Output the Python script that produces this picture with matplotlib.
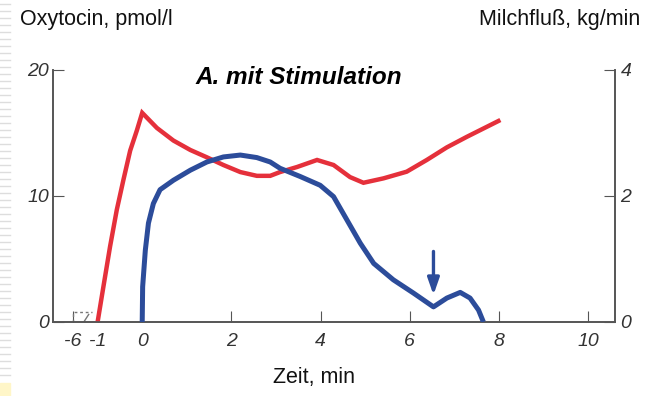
import matplotlib.pyplot as plt

# Oxytocin (pmol/l), time in min
oxy_time = [-1.0, -0.87, -0.72, -0.57, -0.42, -0.27, -0.12, 0.0, 0.33, 0.70,
            1.08, 1.45, 1.82, 2.2, 2.57, 2.87, 3.09, 3.47, 3.92, 4.29, 4.66,
            4.96, 5.41, 5.93, 6.38, 6.83, 7.28, 8.03]
oxy_value = [0, 2.8, 6.0, 8.9, 11.3, 13.6, 15.2, 16.6, 15.4, 14.4,
             13.65, 13.07, 12.46, 11.9, 11.6, 11.6, 11.9, 12.3, 12.86, 12.46, 11.5,
             11.05, 11.4, 11.93, 12.86, 13.86, 14.7, 16.03]

# Milchfluss (kg/min)
milk_time = [0, 0.01, 0.07, 0.14, 0.25, 0.40, 0.70, 1.08, 1.45, 1.82, 2.2,
             2.57, 2.87, 3.09, 3.54, 3.99, 4.29, 4.59, 4.89, 5.19, 5.63, 6.08,
             6.53, 6.83, 7.13, 7.35, 7.54, 7.65]
milk_value = [0, 0.56, 1.14, 1.57, 1.88, 2.10, 2.25, 2.41, 2.54, 2.62, 2.65,
              2.61, 2.54, 2.44, 2.31, 2.17, 1.99, 1.62, 1.25, 0.93, 0.67, 0.46,
              0.24, 0.38, 0.47, 0.38, 0.19, 0]

# x axis has a break: "-6" sits just left of "-1"
x_tick_pos = [-1.55, -1, 0, 2, 4, 6, 8, 10]
x_tick_labels = ["-6", "-1", "0", "2", "4", "6", "8", "10"]
left_ticks = [0, 10, 20]
right_ticks = [0, 2, 4]

arrow_time = 6.53

plt.rcParams["font.family"] = ["Liberation Sans", "DejaVu Sans"]

W, H = 645, 396
fig = plt.figure(figsize=(W / 100, H / 100), dpi=100)
ax = fig.add_axes([53 / W, 1 - 322 / H, (615 - 53) / W, (322 - 70) / H])
ax2 = ax.twinx()

red = "#e5303b"
blue = "#2c4c9a"
ax.plot(oxy_time, oxy_value, color=red, lw=3.2, solid_joinstyle="miter",
        solid_capstyle="butt", zorder=3)
ax2.plot(milk_time, milk_value, color=blue, lw=3.6, solid_joinstyle="round",
         solid_capstyle="butt", zorder=3)

ax.set_xlim(-2.0, 10.6)
ax.set_ylim(0, 20)
ax2.set_ylim(0, 4)

for a in (ax, ax2):
    a.spines["top"].set_visible(False)
    for s in a.spines.values():
        s.set_color("#555555")
        s.set_linewidth(1.2)

ax.set_xticks(x_tick_pos)
ax.set_xticklabels(x_tick_labels)
ax.set_yticks(left_ticks)
ax2.set_yticks(right_ticks)
ax.tick_params(axis="x", direction="in", length=8, pad=8, labelsize=14,
               color="#555555")
ax.tick_params(axis="y", direction="in", length=8, pad=3, labelsize=14,
               color="#555555")
ax2.tick_params(axis="y", direction="in", length=8, pad=4, labelsize=14,
                color="#555555")
for lab in ax.get_xticklabels() + ax.get_yticklabels() + ax2.get_yticklabels():
    lab.set_fontstyle("italic")
    lab.set_color("#333333")

# axis break marks near -6 / -1
ax.plot([-1.55, -1.55, -1.12], [0, 0.8, 0.8], ls=(0, (2, 2)), color="#777777",
        lw=1, clip_on=False)
ax.plot([-1.3, -1.2], [0.05, 0.6], color="#777777", lw=1)

# arrow marking the second flow peak
ax2.annotate("", xy=(arrow_time, 0.43), xytext=(arrow_time, 1.12),
             arrowprops=dict(arrowstyle="-|>,head_length=1.0,head_width=0.35",
                             color=blue, lw=2.4, shrinkA=0, shrinkB=0))

fig.text(20 / W, 1 - 20 / H, "Oxytocin, pmol/l", fontsize=15.5, va="center",
         ha="left", color="#111111")
fig.text(640 / W, 1 - 20 / H, "Milchfluß, kg/min", fontsize=15.5, va="center",
         ha="right", color="#111111")
fig.text(299 / W, 1 - 78 / H, "A. mit Stimulation", fontsize=17.5,
         fontweight="bold", fontstyle="italic", ha="center", va="center")
fig.text(314 / W, 1 - 378 / H, "Zeit, min", fontsize=15.5, ha="center",
         va="center", color="#111111")

# page decoration on the left edge
for yy in range(4, 380, 7):
    fig.add_artist(plt.Line2D([0, 10 / W], [1 - yy / H] * 2, color="#dddddd",
                              lw=1))
fig.add_artist(plt.Rectangle((0, 0), 10 / W, 13 / H, color="#fff6c8",
                             transform=fig.transFigure))

fig.savefig("out.png", dpi=100)
